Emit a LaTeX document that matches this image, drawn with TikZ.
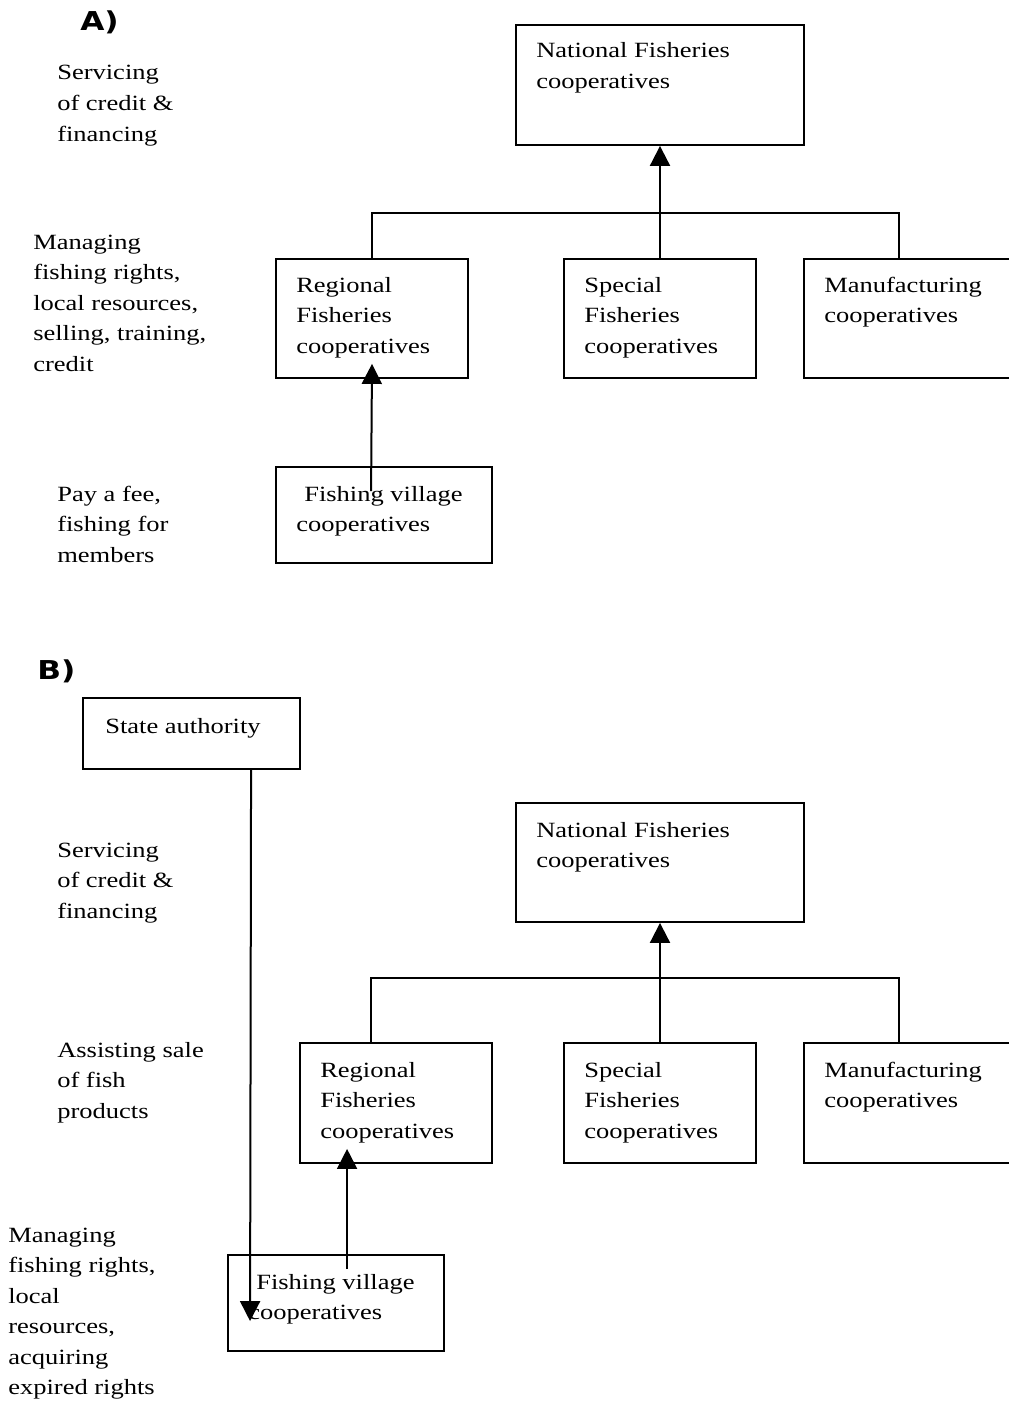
\documentclass[tikz,border=0pt]{standalone}
\usepackage{fontspec}
\setmainfont{Liberation Serif}[FakeStretch=1.22]
\newfontfamily\lblfont{DejaVu Sans}[FakeStretch=1.2]
\usetikzlibrary{arrows.meta,calc,fit}
\newcommand\mlines[1]{\begin{tabular}[t]{@{}l@{}}#1\end{tabular}}
\tikzset{
  box/.style={draw, line width=1.4pt, inner sep=0pt, rectangle},
  txt/.style={anchor=base west, inner sep=0pt, font=\fontsize{16.3}{22.9}\selectfont},
  lbl/.style={anchor=base west, inner sep=0pt, font=\lblfont\bfseries\fontsize{19.5}{22}\selectfont},
  conn/.style={line width=1.5pt},
  arr/.style={line width=1.5pt, -{Triangle[length=15pt,width=15pt]}, shorten >=0pt}
}
\begin{document}
\begin{tikzpicture}[x=0.75pt,y=-0.75pt]
\useasboundingbox (0,0) rectangle (1008,1405);
% ---------------- Part A ----------------
\node[lbl] (labA) at (80,31) {A)};
\node[txt] (tA1) at (57,80) {\mlines{Servicing\\of credit \&\\financing}};
\node[txt] (tA2) at (33,249) {\mlines{Managing\\fishing rights,\\local resources,\\selling, training,\\credit}};
\node[txt] (tA3) at (57,501) {\mlines{Pay a fee,\\fishing for\\members}};

\node[box, fit={(516,25) (804,145)}] (natA) {};
\node[txt] (natAt) at (536,58) {\mlines{National Fisheries\\cooperatives}};
\node[box, fit={(276,259) (468,378)}] (regA) {};
\node[txt] (regAt) at (296,292) {\mlines{Regional\\Fisheries\\cooperatives}};
\node[box, fit={(564,259) (756,378)}] (speA) {};
\node[txt] (speAt) at (584,292) {\mlines{Special\\Fisheries\\cooperatives}};
\node[box, fit={(804,259) (1020,378)}] (manA) {};
\node[txt] (manAt) at (824,292) {\mlines{Manufacturing\\cooperatives}};
\node[box, fit={(276,467) (492,563)}] (vilA) {};
\node[txt] (vilAt) at (296,501) {\mlines{\hspace{6pt}Fishing village\\cooperatives}};

\coordinate (jA) at ($(speA.north)+(0,-45)$);
\draw[conn] (regA.north) |- (jA) -| ($(manA.north west)+(96,0)$);
\draw[arr] (speA.north) -- (natA.south);
\draw[arr] ($(vilA.north west)+(96,25)$) -- ($(regA.south)+(0,-15)$);

% ---------------- Part B ----------------
\node[lbl] (labB) at (37,679) {B)};
\node[box, fit={(83,698) (300,769)}] (staB) {};
\node[txt] (staBt) at (105,733) {State authority};
\node[txt] (tB1) at (57,857) {\mlines{Servicing\\of credit \&\\financing}};
\node[txt] (tB2) at (57,1057) {\mlines{Assisting sale\\of fish\\products}};
\node[txt] (tB3) at (8,1242) {\mlines{Managing\\fishing rights,\\local\\resources,\\acquiring\\expired rights}};

\node[box, fit={(516,803) (804,922)}] (natB) {};
\node[txt] (natBt) at (536,837) {\mlines{National Fisheries\\cooperatives}};
\node[box, fit={(300,1043) (492,1163)}] (regB) {};
\node[txt] (regBt) at (320,1077) {\mlines{Regional\\Fisheries\\cooperatives}};
\node[box, fit={(564,1043) (756,1163)}] (speB) {};
\node[txt] (speBt) at (584,1077) {\mlines{Special\\Fisheries\\cooperatives}};
\node[box, fit={(804,1043) (1020,1163)}] (manB) {};
\node[txt] (manBt) at (824,1077) {\mlines{Manufacturing\\cooperatives}};
\node[box, fit={(228,1255) (444,1351)}] (vilB) {};
\node[txt] (vilBt) at (248,1289) {\mlines{\hspace{6pt}Fishing village\\cooperatives}};

\coordinate (jB) at ($(speB.north)+(0,-64)$);
\draw[conn] ($(regB.north west)+(72,0)$) |- (jB) -| ($(manB.north west)+(96,0)$);
\draw[arr] (speB.north) -- (natB.south);
\draw[arr] ($(vilB.north west)+(120,15)$) -- ($(regB.south west)+(48,-15)$);
\draw[arr] ($(staB.south west)+(169,0)$) -- ($(vilB.north west)+(23,67)$);
\end{tikzpicture}
\end{document}
